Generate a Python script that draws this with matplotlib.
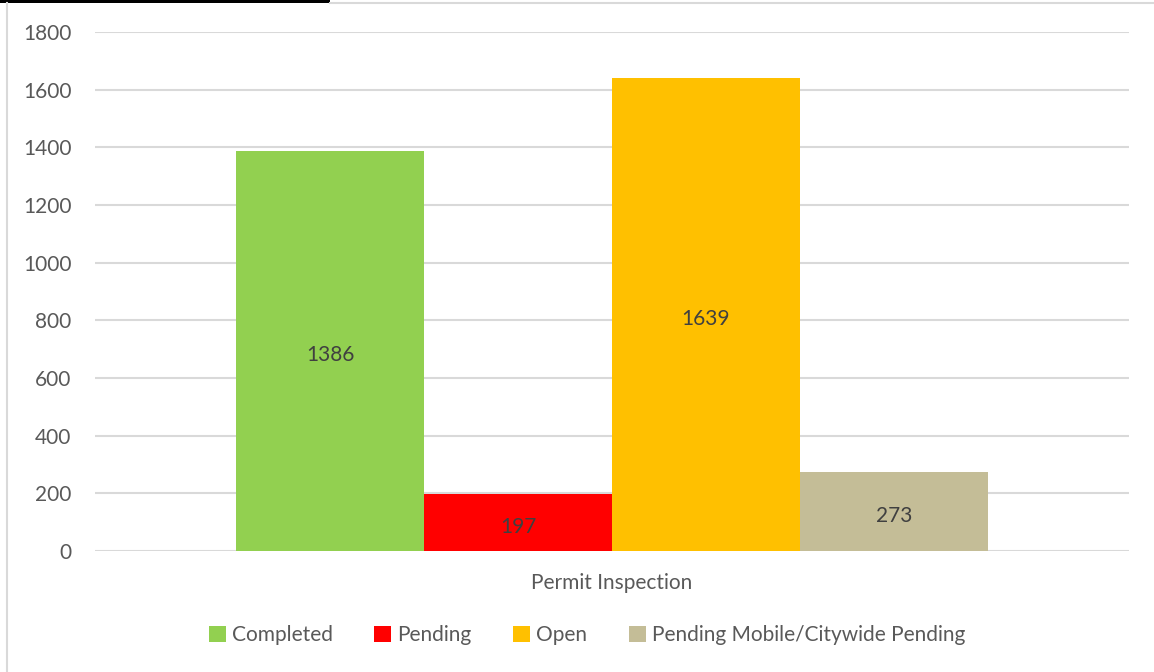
import matplotlib
matplotlib.use("Agg")
import matplotlib.pyplot as plt
from matplotlib.patches import Rectangle, Patch
from matplotlib.lines import Line2D

categories = ["Completed", "Pending", "Open", "Pending Mobile/Citywide Pending"]
values = [1386, 197, 1639, 273]
colors = ["#92d050", "#ff0000", "#ffc000", "#c4bd97"]
group_label = "Permit Inspection"
yticks = [0, 200, 400, 600, 800, 1000, 1200, 1400, 1600, 1800]

plt.rcParams['font.family'] = ['Lato', 'DejaVu Sans']
W, H = 1154, 672
fig = plt.figure(figsize=(W/100, H/100), dpi=100)
fig.patch.set_facecolor("white")

ax = fig.add_axes([95/W, (H-551)/H, (1129-95)/W, (551-32)/H])
n = len(values)
xs = [i - (n-1)/2 for i in range(n)]
bars = ax.bar(xs, values, width=1.0, color=colors, zorder=3)
for x, v in zip(xs, values):
    ax.annotate(str(v), (x, v/2), xytext=(0, -3), textcoords="offset points",
                ha="center", va="center", fontsize=15, color="#404040", zorder=4)

ax.set_xlim(-2.75, 2.75)
ax.set_ylim(0, 1800)
ax.set_yticks(yticks)
ax.set_yticklabels([str(t) for t in yticks], fontsize=15, color="#595959")
ax.tick_params(axis="y", length=0, pad=17)
ax.set_xticks([])
for s in ax.spines.values():
    s.set_visible(False)
ax.grid(axis="y", color="#d9d9d9", linewidth=1.5, zorder=0)
ax.text(0, -1800*32/519, group_label, ha="center", va="center", fontsize=15, color="#595959")

handles = [Patch(facecolor=c, edgecolor="none") for c in colors]
fig.legend(handles, categories, loc="center", bbox_to_anchor=(587/W, (H-635)/H), ncol=4,
           frameon=False, fontsize=15, labelcolor="#595959", handlelength=0.8, handleheight=0.8,
           handletextpad=0.3, columnspacing=2.0)

# frame lines
fig.add_artist(Line2D([6.5/W, 6.5/W], [0, (H-3)/H], color="#d9d9d9", linewidth=1.5))
fig.add_artist(Line2D([330/W, 1], [(H-3)/H, (H-3)/H], color="#d9d9d9", linewidth=1.5))
fig.add_artist(Rectangle((0, (H-3)/H), 330/W, 3/H, facecolor="black", edgecolor="none"))

fig.savefig("out.png", dpi=100)
